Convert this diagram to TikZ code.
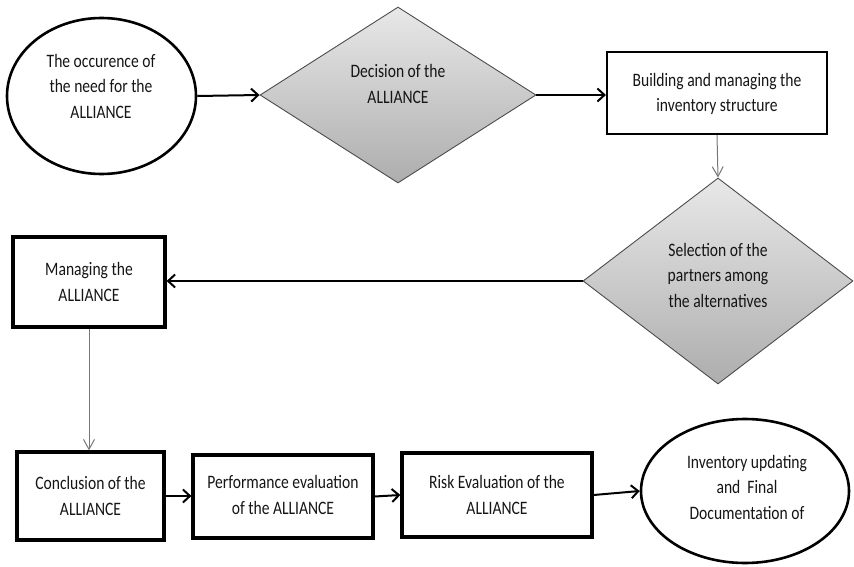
\documentclass[tikz,border=0pt]{standalone}
\usepackage{fontspec}
\setmainfont{Carlito}[FakeStretch=0.82]
\usetikzlibrary{shapes.geometric,arrows.meta}
\definecolor{ink}{HTML}{151515}
\definecolor{thinline}{HTML}{777777}
\begin{document}
\begin{tikzpicture}[x=1pt,y=-1pt,
  txt/.style={align=center, text=ink, font=\fontsize{19}{25.5}\selectfont, inner sep=0},
  oval/.style={ellipse, draw, line width=2.6pt, inner sep=0},
  box/.style={rectangle, draw, line width=3.2pt, inner sep=0},
  dia/.style={diamond, draw=black!70, line width=0.9pt, top color=black!9, bottom color=black!32, inner sep=0},
  flow/.style={line width=2pt, -{Straight Barb[length=7pt,width=13pt,line width=2pt]}},
  thinflow/.style={line width=1pt, draw=thinline, -{Straight Barb[length=10pt,width=11pt,line width=1pt]}}
]
\useasboundingbox (0,0) rectangle (854,567);

% shapes
\node[oval, minimum width=189, minimum height=156] (e1) at (101.5,96) {};
\node[dia, minimum width=276, minimum height=176] (d1) at (398,95) {};
\node[box, line width=2.2pt, minimum width=220, minimum height=82] (b1) at (717,93) {};
\node[dia, minimum width=270, minimum height=206] (d2) at (718,281) {};
\node[box, minimum width=152, minimum height=90] (b2) at (89,282) {};
\node[box, minimum width=147, minimum height=88] (b3) at (90.5,496) {};
\node[box, minimum width=180, minimum height=83] (b4) at (283,496.5) {};
\node[box, minimum width=190, minimum height=84] (b5) at (497,495) {};
\node[oval, minimum width=208, minimum height=144] (e2) at (745,491) {};

% labels
\node[txt] (t1) at (101,86) {The occurence of\\the need for the\\ALLIANCE};
\node[txt] (t2) at (398,84) {Decision of the\\ALLIANCE};
\node[txt] (t3) at (717,94) {Building and managing the\\inventory structure};
\node[txt] (t4) at (718,275) {Selection of the\\partners among\\the alternatives};
\node[txt] (t5) at (89,282) {Managing the\\ALLIANCE};
\node[txt] (t6) at (90.5,496) {Conclusion of the\\ALLIANCE};
\node[txt] (t7) at (283,495) {Performance evaluation\\of the ALLIANCE};
\node[txt] (t8) at (497,495) {Risk Evaluation of the\\ALLIANCE};
\node[txt] (t9) at (747,487) {Inventory updating\\and\ \ Final\\Documentation of};

% connectors
\draw[flow] (e1.east) -- (d1.west);
\draw[flow] (d1.east) -- (d1.east -| b1.west);
\draw[thinflow] (b1.south) -- (d2.north);
\draw[flow] (d2.west) -- (d2.west -| b2.east);
\draw[thinflow] (b2.south) -- (b2.south |- b3.north);
\draw[flow] (b3.east) -- (b3.east -| b4.west);
\draw[flow] (b4.east) -- (b5.west);
\draw[flow] (b5.east) -- (e2.west);
\end{tikzpicture}
\end{document}
